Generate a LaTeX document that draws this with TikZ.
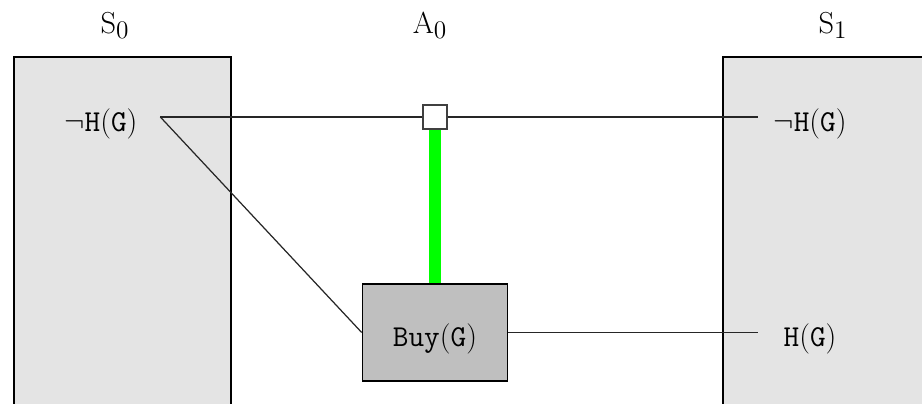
\documentclass[tikz,border=0pt]{standalone}
\usepackage{amsmath,amssymb}
\usepackage{xcolor}
\usepackage{tikz}
\usetikzlibrary{calc,positioning}

\definecolor{stategray}{gray}{0.895}
\definecolor{actiongray}{gray}{0.75}
\definecolor{precgreen}{RGB}{0,255,0}

\begin{document}
\begin{tikzpicture}[x=0.2mm,y=-0.2mm,
			bigfont/.style={font=\fontsize{17}{20}\selectfont},
			labelfont/.style={font=\fontsize{19}{22}\selectfont},
			statebox/.style={draw=black,line width=1.1pt,fill=stategray},
			fluent/.style={bigfont,text height=16pt,text depth=0pt,inner xsep=0pt,minimum width=2.08cm},
			actionbox/.style={bigfont,draw=black,line width=0.9pt,fill=actiongray,minimum width=2.9cm,minimum height=1.94cm,text height=16pt,text depth=0pt},
			gatebox/.style={draw=black!75,fill=white,line width=0.6pt,minimum size=0.48cm,inner sep=0pt},
			link/.style={draw=black!85,line width=0.7pt},
			precline/.style={draw=precgreen,line width=0.24cm}]
			
			\useasboundingbox (0,0) rectangle (922,403);
			
			% state boxes, cut off by the page
			\begin{scope}
				\clip (0,0) rectangle (922,403);
				\draw[statebox] (14,57) rectangle (231,440);
				\draw[statebox] (723,57) rectangle (960,440);
			\end{scope}
			
			\node[labelfont,anchor=base] (s0) at (115,33) {$\mathrm{S}_0$};
			\node[labelfont,anchor=base] (a0) at (430,33) {$\mathrm{A}_0$};
			\node[labelfont,anchor=base] (s1) at (833,33) {$\mathrm{S}_1$};
			
			\node[fluent,minimum width=2.36cm] (s0nh) at (101,117) {$\neg\mathtt{H}(\mathtt{G})$};
			\node[fluent] (s1nh) at (810,117) {$\neg\mathtt{H}(\mathtt{G})$};
			\node[fluent] (s1h) at (810,332.5) {$\mathtt{H}(\mathtt{G})$};
			
			\node[actionbox] (buy) at (435,332.5) {$\mathtt{Buy}(\mathtt{G})$};
			\node[gatebox] (gate) at (435,117) {};
			
			\draw[link] (s0nh.east) -- (gate.west);
			\draw[link] (gate.east) -- (s1nh.west);
			\draw[link] (s0nh.east) -- (buy.west);
			\draw[link] (buy.east) -- (s1h.west);
			
			\draw[precline] (gate.south) -- (buy.north);
		\end{tikzpicture}
\end{document}
